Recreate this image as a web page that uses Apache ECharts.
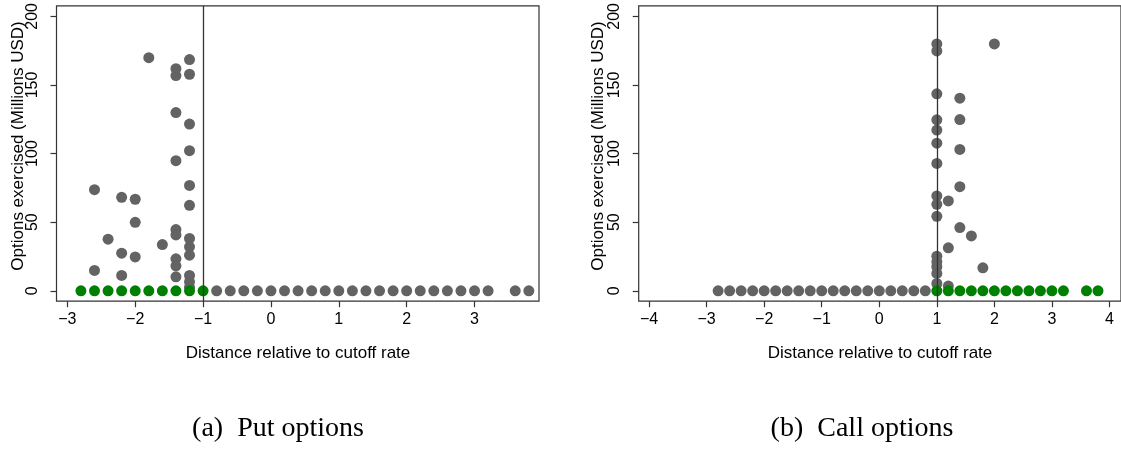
<!DOCTYPE html>
<html>
<head>
<meta charset="utf-8">
<script src="https://cdn.jsdelivr.net/npm/echarts@6/dist/echarts.min.js"></script>
<style>
html, body { margin: 0; padding: 0; background: #fff; }
#chart { width: 1121px; height: 452px; }
</style>
</head>
<body>
<div id="chart"></div>
<script>
// put options: points on the zero line
var putZeroGreenX = [-2.8, -2.6, -2.4, -2.2, -2.0, -1.8, -1.6, -1.4, -1.2, -1.0];
var putZeroGreyX = [-0.8, -0.6, -0.4, -0.2, 0, 0.2, 0.4, 0.6, 0.8, 1.0, 1.2, 1.4, 1.6,
    1.8, 2.0, 2.2, 2.4, 2.6, 2.8, 3.0, 3.2, 3.6, 3.8];
// put options: points above zero
var putGreyX = [-2.6, -2.6, -2.4, -2.2, -2.2, -2.2, -2.0, -2.0, -2.0, -1.8, -1.6,
    -1.4, -1.4, -1.4, -1.4, -1.4, -1.4, -1.4, -1.4, -1.4,
    -1.2, -1.2, -1.2, -1.2, -1.2, -1.2, -1.2, -1.2, -1.2, -1.2, -1.2, -1.2];
var putGreyY = [73.7, 14.8, 37.6, 68.1, 27.4, 11.2, 66.7, 49.9, 24.7, 169.9, 33.7,
    161.9, 156.8, 129.9, 94.8, 44.6, 40.7, 23.3, 18.2, 10.2,
    168.5, 157.8, 121.5, 102.1, 76.8, 62.3, 38.1, 32.0, 25.9, 11.2, 6.5, 2.5];

// call options: points on the zero line
var callZeroGreyX = [-2.8, -2.6, -2.4, -2.2, -2.0, -1.8, -1.6, -1.4, -1.2, -1.0, -0.8,
    -0.6, -0.4, -0.2, 0, 0.2, 0.4, 0.6, 0.8];
var callZeroGreenX = [1.0, 1.2, 1.4, 1.6, 1.8, 2.0, 2.2, 2.4, 2.6, 2.8, 3.0, 3.2, 3.6, 3.8];
// call options: points above zero
var callGreyX = [1.0, 1.0, 1.0, 1.0, 1.0, 1.0, 1.0, 1.0, 1.0, 1.0, 1.0, 1.0, 1.0, 1.0, 1.0,
    1.2, 1.2, 1.2, 1.4, 1.4, 1.4, 1.4, 1.4, 1.6, 1.8, 2.0];
var callGreyY = [179.9, 174.8, 143.5, 124.6, 117.1, 107.6, 92.8, 69.1, 63.0, 54.3, 25.2, 21.1, 17.5, 12.6, 5.3,
    65.5, 31.3, 3.4, 140.4, 124.8, 103.0, 75.9, 46.1, 40.0, 16.7, 179.9];

var putTicks = [-3, -2, -1, 0, 1, 2, 3];
var callTicks = [-4, -3, -2, -1, 0, 1, 2, 3, 4];
var yTicks = [0, 50, 100, 150, 200];

var GREY = '#636363';
var GREEN = '#008000';
var LINE = '#333333';
var SANS = '"Liberation Sans", Arial, sans-serif';

function zip(xs, ys) {
    return xs.map(function (x, i) { return [x, ys ? ys[i] : 0]; });
}
function minus(v) {
    return String(v).replace('-', '\u2212');
}

function xAxis(idx, min, max, ticks) {
    return {
        type: 'value', gridIndex: idx, min: min, max: max,
        splitLine: { show: false },
        axisLine: { show: false, onZero: false },
        axisTick: { show: true, length: 6, customValues: ticks, lineStyle: { color: LINE, width: 1.2 } },
        axisLabel: { customValues: ticks, margin: 10, color: '#000', fontSize: 16, fontFamily: SANS, formatter: minus }
    };
}
function yAxis(idx) {
    return {
        type: 'value', gridIndex: idx, min: -7.6, max: 207.6,
        splitLine: { show: false },
        axisLine: { show: false, onZero: false },
        axisTick: { show: true, length: 6, customValues: yTicks, lineStyle: { color: LINE, width: 1.2 } },
        axisLabel: { customValues: yTicks, rotate: 90, margin: 16, color: '#000', fontSize: 16, fontFamily: SANS }
    };
}
function dots(idx, data, color, z) {
    return {
        type: 'scatter', xAxisIndex: idx, yAxisIndex: idx, data: data,
        symbolSize: 11, z: z, silent: true,
        itemStyle: { color: color, opacity: 1 }
    };
}
function cutoff(idx, x) {
    return {
        type: 'line', xAxisIndex: idx, yAxisIndex: idx, data: [], z: 1,
        markLine: {
            silent: true, symbol: 'none', label: { show: false },
            lineStyle: { color: LINE, width: 1.3, type: 'solid' },
            data: [{ xAxis: x }]
        }
    };
}

var chart = echarts.init(document.getElementById('chart'));
var option = {
    animation: false,
    grid: [
        { left: 56.5, top: 5.3, width: 482.5, height: 295.9, show: true, borderColor: LINE, borderWidth: 1.2, backgroundColor: '#fff' },
        { left: 638.7, top: 5.3, width: 484.4, height: 295.9, show: true, borderColor: LINE, borderWidth: 1.2, backgroundColor: '#fff' }
    ],
    xAxis: [xAxis(0, -3.16, 3.95, putTicks), xAxis(1, -4.18, 4.2, callTicks)],
    yAxis: [yAxis(0), yAxis(1)],
    series: [
        cutoff(0, -1),
        dots(0, zip(putGreyX, putGreyY), GREY, 2),
        dots(0, zip(putZeroGreyX), GREY, 2),
        dots(0, zip(putZeroGreenX), GREEN, 3),
        cutoff(1, 1),
        dots(1, zip(callGreyX, callGreyY), GREY, 2),
        dots(1, zip(callZeroGreyX), GREY, 2),
        dots(1, zip(callZeroGreenX), GREEN, 3)
    ],
    graphic: [
        { type: 'text', x: 298, y: 353, style: { text: 'Distance relative to cutoff rate', align: 'center', verticalAlign: 'middle', font: '17px ' + SANS, fill: '#000' } },
        { type: 'text', x: 880, y: 353, style: { text: 'Distance relative to cutoff rate', align: 'center', verticalAlign: 'middle', font: '17px ' + SANS, fill: '#000' } },
        { type: 'text', x: 18, y: 146, rotation: Math.PI / 2, style: { text: 'Options exercised (Millions USD)', align: 'center', verticalAlign: 'middle', font: '17px ' + SANS, fill: '#000' } },
        { type: 'text', x: 598, y: 146, rotation: Math.PI / 2, style: { text: 'Options exercised (Millions USD)', align: 'center', verticalAlign: 'middle', font: '17px ' + SANS, fill: '#000' } },
        { type: 'text', x: 278, y: 429, style: { text: '(a)  Put options', align: 'center', verticalAlign: 'middle', font: '28px "Liberation Serif", serif', fill: '#000' } },
        { type: 'text', x: 862, y: 429, style: { text: '(b)  Call options', align: 'center', verticalAlign: 'middle', font: '28px "Liberation Serif", serif', fill: '#000' } }
    ]
};
chart.setOption(option);
</script>
</body>
</html>
